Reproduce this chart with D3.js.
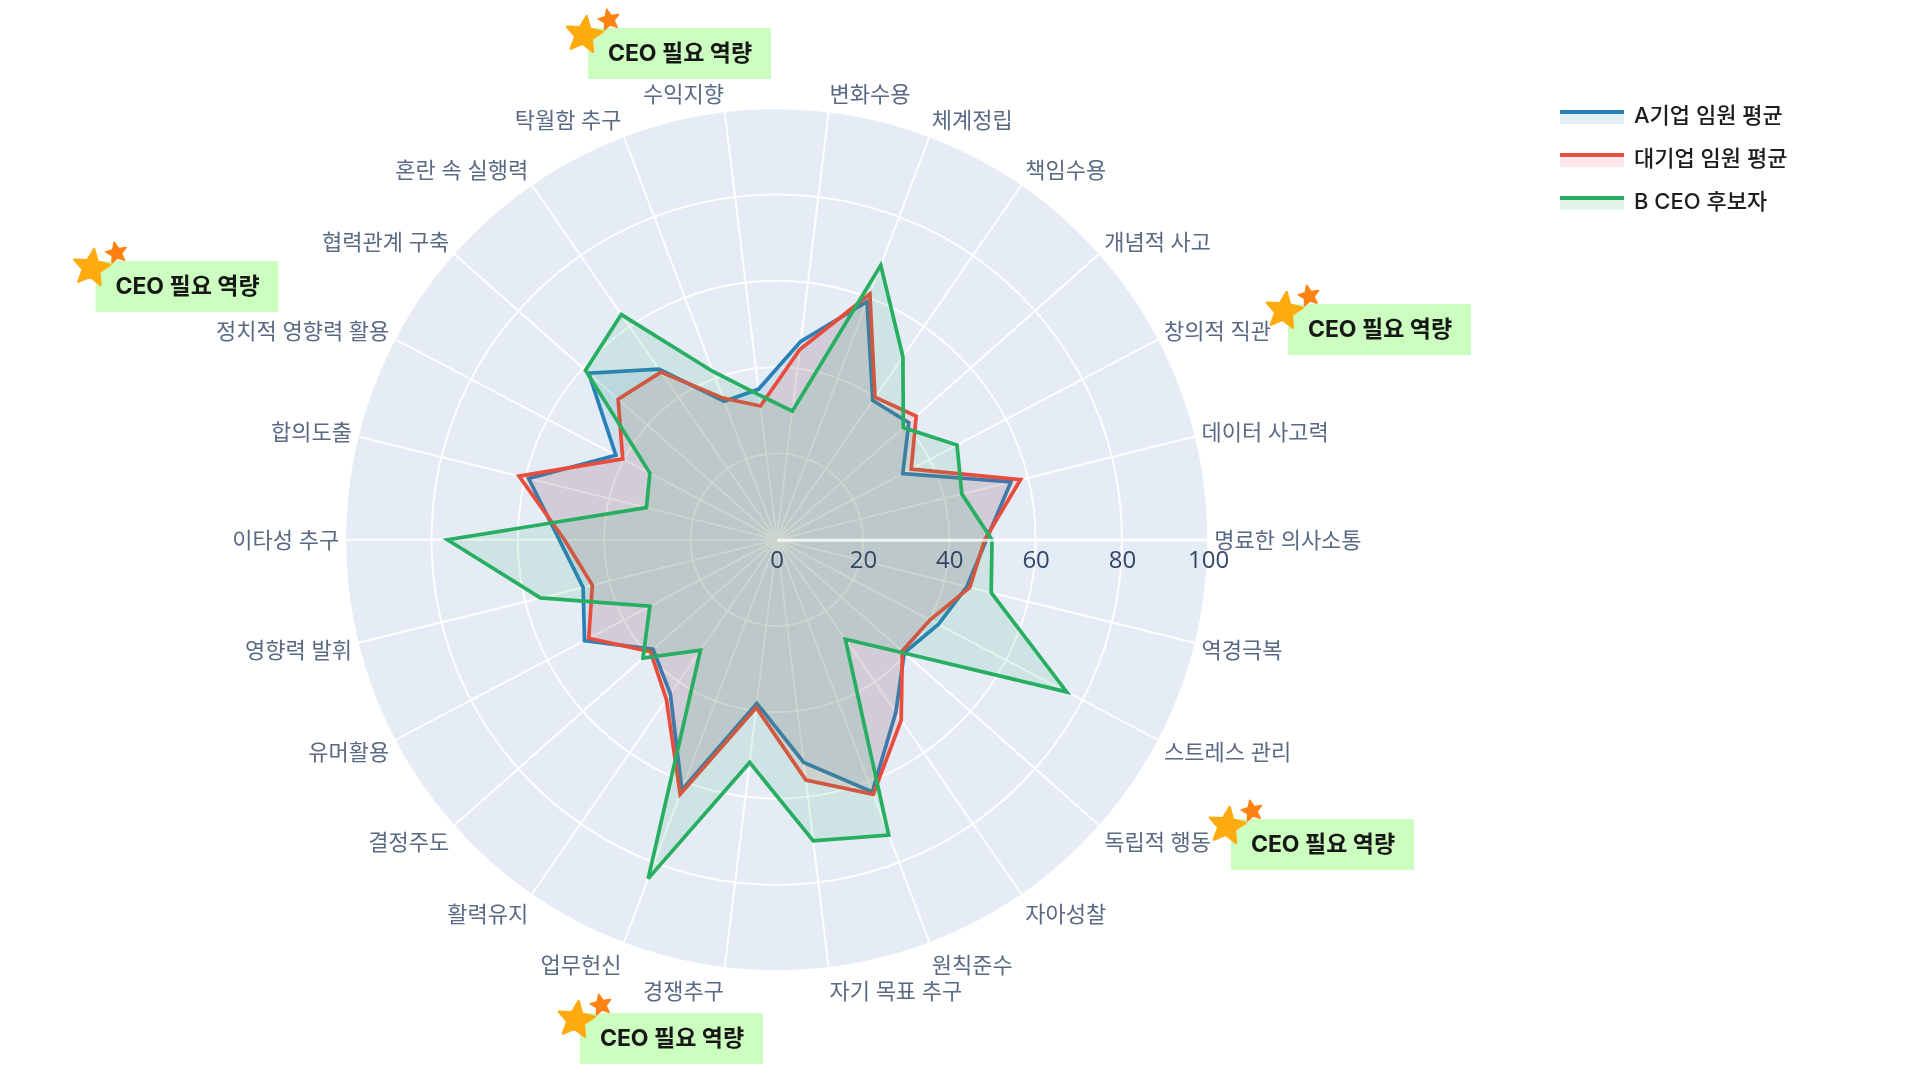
<!DOCTYPE html>
<html lang="ko">
<head>
<meta charset="utf-8">
<script src="https://cdn.jsdelivr.net/npm/d3@7"></script>
<style>
html,body{margin:0;padding:0;background:#fff;width:1920px;height:1080px;overflow:hidden}
svg{display:block;filter:blur(0.6px)}
text{font-family:"Open Sans","Noto Sans CJK KR",sans-serif}
.note,.leg{font-family:"Inter","Noto Sans CJK KR",sans-serif}
</style>
</head>
<body>
<svg id="chart" width="1920" height="1080"></svg>
<script>
const categories = ["명료한 의사소통","데이터 사고력","창의적 직관","개념적 사고","책임수용","체계정립","변화수용","수익지향","탁월함 추구","혼란 속 실행력","협력관계 구축","정치적 영향력 활용","합의도출","이타성 추구","영향력 발휘","유머활용","결정주도","활력유지","업무헌신","경쟁추구","자기 목표 추구","원칙준수","자아성찰","독립적 행동","스트레스 관리","역경극복"];
const seriesNames = ["A기업 임원 평균","대기업 임원 평균","B CEO 후보자"];
const companyA = [48.6,55.9,33,40.9,39.2,59,46.3,35.1,34.3,48,58.2,42.1,59.2,50.4,46.2,50.3,38.3,43.4,62,38.2,52,62.5,48.6,39.5,42.3,45.4];
const enterprise = [48.2,58.2,35.2,43.2,40.1,60.9,44.4,31.2,35.1,47.2,49.1,40.3,61.5,49.2,44,49.2,39.1,45,63.1,39.2,56.1,63.1,50.8,38.9,40.1,46.1];
const candidate = [49.9,44.2,47.2,39.2,51.5,68,30,33.8,41.7,63.4,59.2,33.2,31.1,76.3,56.4,33.2,41.4,31.1,84,52,70.3,73.2,28,39.7,75.9,51.2];
const radialTicks = [0,20,40,60,80,100];
const noteLabel = "CEO 필요 역량";
const seriesColors = ["#2980b9","#e74c3c","#27ae60"];

const W = 1920, H = 1080, cx = 776.7, cy = 539.7, R = 431.5;
const svg = d3.select("#chart");
const r = d3.scaleLinear().domain([0,100]).range([0,R]);
const angle = d3.scaleLinear().domain([0,categories.length]).range([Math.PI/2, Math.PI/2 - 2*Math.PI]);
const root = svg.append("g").attr("transform",`translate(${cx},${cy})`);

root.append("circle").attr("r",R).attr("fill","#E5ECF6");
root.selectAll("circle.ring").data(radialTicks.slice(1)).join("circle").attr("class","ring")
  .attr("r",d=>r(d)).attr("fill","none").attr("stroke","#fff").attr("stroke-width",1.9);
root.selectAll("line.spoke").data(categories).join("line").attr("class","spoke")
  .attr("x1",0).attr("y1",0)
  .attr("x2",(d,i)=>R*Math.sin(angle(i)))
  .attr("y2",(d,i)=>-R*Math.cos(angle(i)))
  .attr("stroke","#fff").attr("stroke-width",1.9);

const radial = d3.lineRadial().angle((d,i)=>angle(i)).radius(d=>r(d)).curve(d3.curveLinearClosed);
[companyA,enterprise,candidate].forEach((vals,s)=>{
  root.append("path").attr("d",radial(vals))
    .attr("fill",seriesColors[s]).attr("fill-opacity",0.12)
    .attr("stroke",seriesColors[s]).attr("stroke-width",3.7).attr("stroke-linejoin","miter");
});

const radialAxis = d3.axisBottom(r).tickValues(radialTicks).tickSize(0).tickPadding(11);
const ra = root.append("g").call(radialAxis);
ra.select(".domain").attr("stroke","#fff").attr("stroke-opacity",0.75).attr("stroke-width",3);
ra.selectAll("text").attr("fill","#34476a").style("font-size","24px").style("font-family",'"Open Sans","Noto Sans CJK KR",sans-serif');

root.selectAll("text.cat").data(categories).join("text").attr("class","cat")
  .text(d=>d)
  .attr("text-anchor",(d,i)=>Math.sin(angle(i))>=0?"start":"end")
  .attr("x",(d,i)=>(R+6)*Math.sin(angle(i)))
  .attr("y",(d,i)=>{
    const up=Math.cos(angle(i));
    return -R*up + (up>0 ? -17.5*up : (up<-0.01 ? 1.5-21.5*up : 0));
  })
  .attr("dy","0.36em")
  .attr("fill","#5a6a84").style("font-size","22px");

const legRows = [112,155,198];
const leg = svg.append("g").selectAll("g").data(seriesNames).join("g")
  .attr("transform",(d,i)=>`translate(1560,${legRows[i]})`);
leg.append("rect").attr("x",0).attr("y",0).attr("width",64).attr("height",12)
  .attr("fill",(d,i)=>seriesColors[i]).attr("fill-opacity",0.13);
leg.append("line").attr("x1",0).attr("x2",64).attr("y1",0).attr("y2",0)
  .attr("stroke",(d,i)=>seriesColors[i]).attr("stroke-width",4);
leg.append("text").attr("class","leg").attr("x",74).attr("y",3).attr("dy","0.36em")
  .text(d=>d).attr("fill","#1d1d1f").style("font-size","22px").style("font-weight",500);

const noteBoxes = [[588,28],[95.5,261],[1288,304],[1231,819],[580,1013]];
const starPath = (outer)=>{
  const inner = outer*0.46, pts=[];
  for(let i=0;i<10;i++){const a=-Math.PI/2+i*Math.PI/5,q=i%2?inner:outer;pts.push([q*Math.cos(a),q*Math.sin(a)]);}
  return d3.line()(pts)+"Z";
};
const notes = svg.append("g").selectAll("g").data(noteBoxes).join("g")
  .attr("transform",d=>`translate(${d[0]},${d[1]})`);
notes.append("rect").attr("width",183).attr("height",51).attr("fill","#CCFFBF");
notes.append("path").attr("d",starPath(19)).attr("transform","translate(-4,7) rotate(8)")
  .attr("fill","#FFAB10").attr("stroke","#FFAB10").attr("stroke-width",2.5).attr("stroke-linejoin","round");
notes.append("path").attr("d",starPath(11)).attr("transform","translate(21,-8) rotate(-12)")
  .attr("fill","#FF8212").attr("stroke","#FF8212").attr("stroke-width",1.5).attr("stroke-linejoin","round");
notes.append("text").attr("class","note").attr("x",92).attr("y",24.5).attr("dy","0.36em").attr("text-anchor","middle")
  .text(noteLabel).attr("fill","#171717").style("font-size","23px").style("font-weight",700);
</script>
</body>
</html>
